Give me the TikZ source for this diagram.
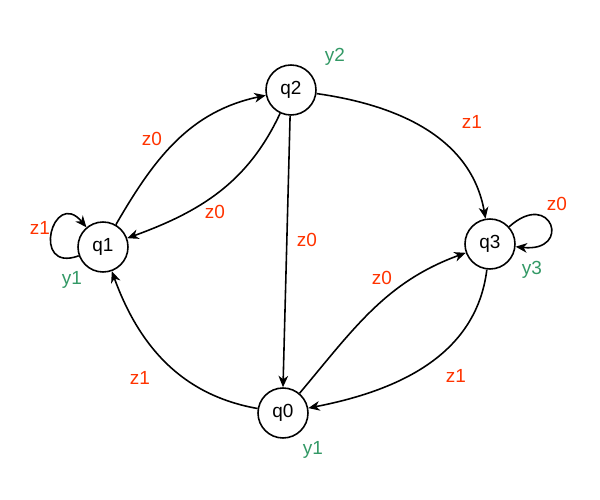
\documentclass[tikz,border=0pt]{standalone}
\usepackage{fontspec}
\setmainfont{Liberation Sans}
\usepackage{xcolor}
\usetikzlibrary{arrows.meta}
\definecolor{inred}{RGB}{255,51,0}
\definecolor{outgreen}{RGB}{51,153,102}

\begin{document}
\begin{tikzpicture}[x=0.02cm,y=-0.02cm,
    state/.style={circle,draw,line width=0.9pt,minimum size=1cm,inner sep=0pt,font=\fontsize{10.8}{12}\selectfont},
    trans/.style={-{Stealth[length=6.5pt,width=5.5pt,inset=2pt]},line width=0.9pt},
    inlbl/.style={text=inred,font=\fontsize{10.8}{12}\selectfont},
    outlbl/.style={text=outgreen,font=\fontsize{10.8}{12}\selectfont}]
    \useasboundingbox (0,0) rectangle (600,500);
    \node[state] (q2) at (291,90) {q2};
    \node[state] (q1) at (103,247) {q1};
    \node[state] (q3) at (490,244) {q3};
    \node[state] (q0) at (283,413) {q0};

    \draw[trans] (q1) to[out=60,in=192] (q2);
    \draw[trans] (q2) to[out=245,in=20] (q1);
    \draw[trans] (q2.268) -- (q0.90);
    \draw[trans] (q2) to[out=-8,in=100] (q3);
    \draw[trans] (q0) to[out=50,in=200] (q3);
    \draw[trans] (q3) to[out=263,in=11] (q0);
    \draw[trans] (q0) to[out=170,in=290] (q1);
    \draw[trans] (q1) to[out=200,in=130,looseness=4.5] (q1);
    \draw[trans] (q3) to[out=42,in=-6,looseness=7] (q3);

    \node[inlbl] (z12) at (152,139) {z0};
    \node[inlbl] (z21) at (215,212) {z0};
    \node[inlbl] (z20) at (307,240) {z0};
    \node[inlbl] (z23) at (472,122) {z1};
    \node[inlbl] (z03) at (382,278) {z0};
    \node[inlbl] (z30) at (456,376) {z1};
    \node[inlbl] (z01) at (140,378) {z1};
    \node[inlbl] (z11) at (40,228) {z1};
    \node[inlbl] (z33) at (557,204) {z0};

    \node[outlbl] (y1a) at (72,280) {y1};
    \node[outlbl] (y2) at (335,57) {y2};
    \node[outlbl] (y3) at (532,270) {y3};
    \node[outlbl] (y1b) at (313,450) {y1};
\end{tikzpicture}
\end{document}
